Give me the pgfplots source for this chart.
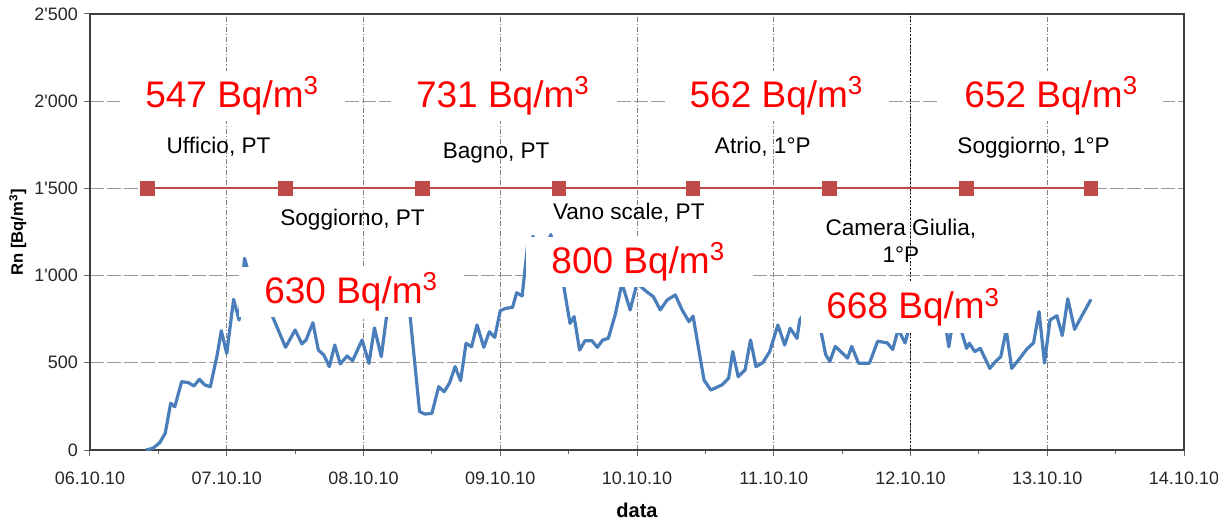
\documentclass[border=0pt]{standalone}
\usepackage{pgfplots}
\pgfplotsset{compat=1.18}
\usepackage{fontspec}
\setmainfont{Liberation Sans}
\definecolor{rnblue}{RGB}{74,126,187}
\definecolor{rnred}{RGB}{190,75,72}
\definecolor{lblred}{RGB}{255,0,0}
\begin{document}
\begin{tikzpicture}
\begin{axis}[
  at={(0,0)}, anchor=south west,
  width=547pt, height=218pt, scale only axis,
  xmin=0, xmax=8, ymin=0, ymax=2500,
  xtick={0,1,2,3,4,5,6,7,8},
  xticklabels={06.10.10,07.10.10,08.10.10,09.10.10,10.10.10,11.10.10,12.10.10,13.10.10,14.10.10},
  ytick={0,500,1000,1500,2000,2500},
  yticklabels={0,500,1\textquotesingle000,1\textquotesingle500,2\textquotesingle000,2\textquotesingle500},
  minor x tick num=1,
  tick align=outside, tick pos=left,
  major tick length=3pt, minor tick length=2pt,
  tick style={black!60, line width=0.5pt},
  xmajorgrids, ymajorgrids,
  x grid style={black!50, line width=0.5pt, dash pattern=on 2.5pt off 1pt on 0.6pt off 1pt},
  y grid style={black!40, line width=0.6pt, dash pattern=on 7pt off 1.5pt},
  axis line style={black!75, line width=1pt},
  ticklabel style={font=\fontsize{9}{10}\selectfont, text=black!85},
  xticklabel style={yshift=-4.5pt},
  yticklabel style={xshift=0.5pt},
  xlabel={data},
  ylabel={Rn [Bq/m\textsuperscript{3}]},
  xlabel style={font=\bfseries\fontsize{10}{12}\selectfont, at={(axis description cs:0.5,-0.1376)}, anchor=center},
  ylabel style={font=\bfseries\fontsize{8.3}{10}\selectfont, at={(axis description cs:-0.066,0.5)}, anchor=center},
]
\addplot[black, line width=0.8pt, densely dotted, forget plot] coordinates {(6,0) (6,2500)};

\addplot[rnblue, line width=1.6pt, line join=round, no markers] coordinates {
(0.41,0) (0.46,10) (0.51,42) (0.55,96) (0.59,268) (0.62,248) (0.67,392) (0.72,386)
(0.76,367) (0.80,405) (0.84,373) (0.88,363) (0.93,545) (0.96,684) (1.00,554) (1.05,864)
(1.09,745) (1.13,1099) (1.20,900) (1.27,850) (1.33,774) (1.43,589) (1.50,688) (1.55,608)
(1.58,631) (1.63,730) (1.67,573) (1.71,545) (1.75,478) (1.79,602) (1.83,493) (1.88,539)
(1.92,512) (1.99,631) (2.04,497) (2.08,700) (2.13,535) (2.17,774) (2.25,950) (2.34,774)
(2.41,220) (2.45,206) (2.50,210) (2.55,363) (2.59,334) (2.63,386) (2.67,478) (2.71,397)
(2.75,612) (2.79,592) (2.83,717) (2.88,589) (2.92,678) (2.96,646) (3.00,799) (3.04,812)
(3.09,818) (3.12,902) (3.16,883) (3.20,1175) (3.24,1225) (3.30,1100) (3.37,1235) (3.42,1050)
(3.46,960) (3.51,726) (3.54,765) (3.58,573) (3.62,627) (3.67,627) (3.71,589) (3.75,631)
(3.79,640) (3.84,774) (3.89,956) (3.95,803) (4.00,956) (4.07,908) (4.12,879) (4.17,803)
(4.22,860) (4.28,889) (4.33,803) (4.38,736) (4.41,768) (4.49,401) (4.54,344) (4.62,373)
(4.67,411) (4.70,564) (4.74,420) (4.79,459) (4.83,631) (4.87,478) (4.92,501) (4.97,564)
(5.03,717) (5.08,602) (5.12,698) (5.17,640) (5.19,745) (5.25,820) (5.30,760) (5.34,701)
(5.38,546) (5.41,508) (5.45,594) (5.54,527) (5.57,594) (5.62,498) (5.70,498) (5.76,624)
(5.83,614) (5.87,576) (5.91,692) (5.96,614) (5.99,701) (6.05,780) (6.15,800) (6.22,760)
(6.26,698) (6.28,592) (6.30,690) (6.37,688) (6.41,583) (6.43,612) (6.47,564) (6.51,583)
(6.58,468) (6.62,506) (6.66,535) (6.70,688) (6.74,468) (6.79,516) (6.85,578) (6.90,615)
(6.94,793) (6.98,499) (7.02,745) (7.07,770) (7.11,656) (7.15,867) (7.20,692) (7.25,765)
(7.32,864)
};

\addplot[rnred, line width=1pt, mark=square*, mark size=3.2pt, mark options={fill=rnred, draw=rnred}] coordinates {
(0.42,1500) (1.43,1500) (2.43,1500) (3.43,1500) (4.41,1500) (5.41,1500) (6.41,1500) (7.32,1500)
};

% red labels (white boxes)
\tikzset{redlbl/.style={fill=white, text=lblred, inner xsep=12.5pt, inner ysep=3pt, font=\fontsize{18.5}{20}\selectfont}}
\node[redlbl] at (axis cs:1.04,2030) {547 Bq/m\textsuperscript{3}};
\node[redlbl] at (axis cs:3.02,2030) {731 Bq/m\textsuperscript{3}};
\node[redlbl] at (axis cs:5.02,2030) {562 Bq/m\textsuperscript{3}};
\node[redlbl] at (axis cs:7.03,2030) {652 Bq/m\textsuperscript{3}};
\node[redlbl] at (axis cs:1.91,906) {630 Bq/m\textsuperscript{3}};
\node[redlbl] at (axis cs:4.01,1078) {800 Bq/m\textsuperscript{3}};
\node[redlbl] at (axis cs:6.02,817) {668 Bq/m\textsuperscript{3}};

% room labels
\tikzset{roomlbl/.style={text=black, inner sep=0pt, font=\fontsize{11.3}{13.5}\selectfont, align=center}}
\node[roomlbl] at (axis cs:0.94,1737) {Ufficio, PT};
\node[roomlbl] at (axis cs:1.92,1319) {Soggiorno, PT};
\node[roomlbl] at (axis cs:2.97,1703) {Bagno, PT};
\node[roomlbl] at (axis cs:3.94,1359) {Vano scale, PT};
\node[roomlbl] at (axis cs:4.92,1737) {Atrio, 1°P};
\node[roomlbl] at (axis cs:5.93,1198) {Camera Giulia,\\1°P};
\node[roomlbl] at (axis cs:6.90,1732) {Soggiorno, 1°P};
\end{axis}
\pgfresetboundingbox
\useasboundingbox (-45pt,-35pt) rectangle (564pt,225pt);
\end{tikzpicture}
\end{document}
